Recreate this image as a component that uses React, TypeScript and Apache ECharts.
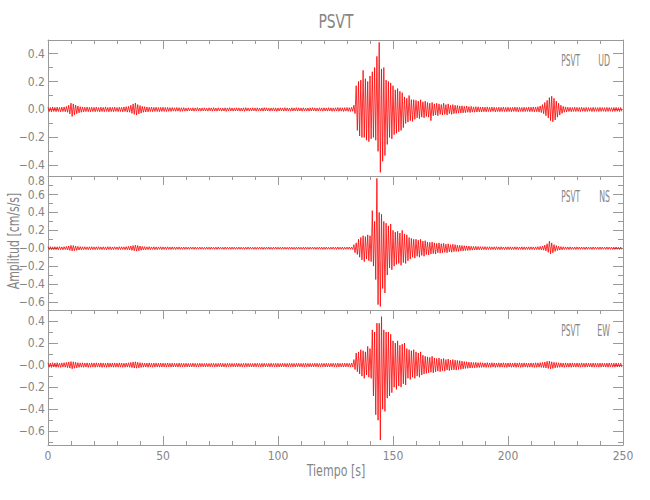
import React, { useEffect, useRef } from "react";
import * as echarts from "echarts";

// ---- data (1 s bins, upper and lower peak amplitude per bin, cm/s/s) ----
const stationName = "PSVT";
const componentNames = ["UD", "NS", "EW"];
const xAxisTitle = "Tiempo [s]";
const yAxisTitle = "Amplitud [cm/s/s]";
const X_MAX = 250;
const X_STEP = 50;
const yRanges = [
  [-0.476, 0.497],
  [-0.69, 0.807],
  [-0.725, 0.5],
];
const yLabelValues = [
  [-0.4, -0.2, 0, 0.2, 0.4],
  [-0.6, -0.4, -0.2, 0, 0.2, 0.4, 0.6, 0.8],
  [-0.6, -0.4, -0.2, 0, 0.2, 0.4],
];
const zeroLabels = ["0.0", "\u22120.0", "\u22120.0"];

const udUp = [
  .016,.014,.018,.015,.017,.014,.016,.018,.022,.03,
  .045,.04,.032,.025,.02,.018,.016,.017,.015,.016,
  .015,.017,.014,.016,.015,.018,.014,.016,.015,.017,
  .014,.016,.015,.018,.02,.022,.03,.04,.046,.035,
  .028,.022,.02,.018,.016,.017,.015,.016,.014,.015,
  .016,.014,.015,.013,.014,.012,.014,.013,.012,.013,
  .011,.012,.01,.012,.011,.013,.01,.011,.012,.01,
  .012,.011,.013,.01,.012,.011,.01,.012,.011,.013,
  .011,.01,.012,.011,.01,.012,.013,.011,.01,.012,
  .011,.012,.01,.011,.013,.012,.01,.011,.012,.011,
  .01,.012,.011,.013,.011,.01,.012,.011,.013,.012,
  .011,.012,.01,.011,.012,.013,.011,.01,.012,.011,
  .012,.011,.013,.012,.011,.012,.014,.013,.012,.013,
  .014,.013,.015,.03,.17,.2,.21,.28,.22,.2,
  .24,.27,.3,.38,.48,.29,.3,.21,.2,.19,
  .17,.14,.15,.13,.12,.09,.08,.1,.07,.07,
  .065,.06,.07,.055,.06,.05,.045,.05,.04,.045,
  .04,.035,.045,.035,.04,.03,.035,.03,.028,.025,
  .026,.022,.025,.02,.022,.018,.02,.019,.017,.018,
  .016,.018,.015,.017,.016,.014,.016,.015,.017,.015,
  .016,.014,.015,.017,.016,.015,.014,.016,.015,.017,
  .016,.018,.017,.02,.025,.035,.05,.065,.085,.095,
  .08,.06,.045,.03,.022,.018,.016,.015,.014,.016,
  .015,.014,.016,.013,.015,.014,.013,.015,.014,.013,
  .015,.014,.013,.015,.014,.013,.014,.015,.013,.014,
];
const udDown = [
  .015,.017,.014,.016,.015,.017,.015,.016,.02,.032,
  .05,.038,.03,.024,.02,.017,.015,.016,.017,.015,
  .016,.014,.017,.015,.016,.014,.017,.015,.016,.014,
  .016,.015,.017,.015,.019,.02,.028,.035,.04,.032,
  .026,.02,.018,.017,.015,.016,.014,.015,.016,.014,
  .014,.015,.013,.014,.012,.013,.012,.014,.013,.012,
  .012,.01,.011,.012,.01,.011,.012,.01,.011,.012,
  .01,.012,.011,.012,.01,.012,.011,.013,.01,.011,
  .012,.011,.01,.012,.011,.013,.01,.012,.011,.01,
  .012,.01,.011,.012,.01,.011,.012,.01,.011,.013,
  .011,.01,.012,.011,.01,.012,.011,.01,.012,.011,
  .012,.01,.011,.012,.011,.01,.012,.011,.01,.012,
  .011,.012,.011,.013,.012,.011,.013,.012,.014,.012,
  .013,.014,.013,.03,.15,.19,.2,.2,.22,.23,
  .21,.2,.22,.3,.45,.37,.33,.25,.2,.21,
  .18,.17,.16,.15,.13,.1,.09,.08,.085,.07,
  .06,.065,.055,.06,.05,.055,.08,.045,.04,.045,
  .035,.04,.035,.04,.03,.035,.03,.028,.026,.025,
  .024,.023,.02,.022,.019,.02,.018,.017,.018,.016,
  .017,.015,.016,.014,.017,.015,.016,.014,.015,.016,
  .015,.016,.014,.015,.017,.014,.016,.015,.014,.016,
  .015,.017,.016,.019,.022,.03,.045,.06,.08,.088,
  .075,.055,.04,.028,.02,.017,.015,.016,.014,.015,
  .014,.016,.013,.015,.014,.013,.015,.014,.013,.015,
  .014,.013,.015,.014,.013,.015,.014,.013,.015,.014,
];
const nsUp = [
  .016,.018,.015,.017,.016,.018,.015,.017,.02,.025,
  .032,.03,.025,.02,.018,.016,.017,.015,.016,.017,
  .015,.016,.017,.014,.016,.015,.017,.016,.014,.016,
  .015,.017,.016,.015,.018,.02,.025,.03,.035,.03,
  .025,.02,.018,.016,.017,.015,.016,.015,.014,.016,
  .015,.014,.016,.013,.015,.014,.013,.015,.012,.014,
  .013,.012,.014,.012,.013,.011,.013,.012,.011,.013,
  .012,.013,.011,.012,.014,.012,.011,.013,.012,.011,
  .013,.012,.011,.013,.012,.011,.012,.013,.012,.011,
  .012,.011,.013,.012,.011,.012,.013,.011,.012,.013,
  .012,.011,.013,.012,.011,.013,.012,.011,.012,.013,
  .011,.012,.013,.011,.012,.013,.012,.011,.013,.012,
  .012,.013,.011,.012,.013,.012,.014,.012,.013,.012,
  .013,.014,.012,.04,.06,.1,.12,.14,.13,.15,
  .14,.42,.3,.78,.4,.38,.3,.28,.25,.27,
  .2,.18,.19,.17,.2,.16,.15,.12,.11,.1,
  .1,.09,.1,.08,.085,.07,.065,.07,.06,.055,
  .06,.05,.055,.045,.05,.04,.045,.04,.035,.032,
  .03,.028,.026,.025,.022,.02,.021,.019,.018,.017,
  .018,.016,.017,.015,.016,.017,.015,.016,.014,.015,
  .016,.015,.014,.016,.015,.014,.016,.015,.014,.015,
  .016,.014,.015,.017,.02,.025,.035,.05,.078,.06,
  .04,.03,.022,.018,.016,.015,.014,.015,.013,.014,
  .015,.013,.014,.012,.014,.013,.012,.014,.013,.012,
  .014,.013,.012,.014,.013,.012,.013,.014,.012,.013,
];
const nsDown = [
  .015,.017,.016,.015,.018,.016,.017,.015,.019,.024,
  .03,.028,.024,.02,.017,.016,.015,.017,.016,.015,
  .016,.015,.014,.016,.015,.017,.014,.016,.015,.014,
  .016,.015,.014,.017,.016,.019,.024,.028,.032,.028,
  .023,.019,.017,.015,.016,.014,.015,.016,.013,.015,
  .014,.015,.013,.014,.013,.015,.012,.014,.013,.012,
  .012,.013,.011,.012,.013,.012,.011,.012,.013,.011,
  .013,.011,.012,.013,.011,.012,.013,.011,.012,.013,
  .011,.013,.012,.011,.012,.013,.011,.012,.011,.013,
  .013,.012,.011,.013,.012,.011,.012,.013,.011,.012,
  .011,.013,.012,.011,.013,.012,.011,.013,.012,.011,
  .012,.013,.011,.012,.011,.012,.013,.012,.011,.013,
  .013,.012,.013,.011,.012,.014,.012,.013,.014,.012,
  .012,.013,.014,.05,.07,.1,.13,.15,.12,.14,
  .15,.2,.35,.63,.65,.45,.5,.3,.22,.24,
  .2,.18,.17,.19,.16,.17,.14,.12,.1,.11,
  .09,.1,.08,.09,.07,.075,.065,.06,.065,.05,
  .055,.05,.045,.05,.04,.045,.038,.035,.036,.03,
  .029,.027,.025,.023,.021,.02,.019,.018,.017,.016,
  .017,.015,.016,.014,.016,.015,.016,.014,.015,.016,
  .015,.016,.014,.015,.016,.014,.015,.016,.014,.015,
  .014,.016,.015,.016,.018,.022,.03,.045,.063,.05,
  .035,.025,.02,.017,.015,.014,.015,.013,.014,.015,
  .013,.014,.012,.014,.013,.012,.014,.013,.012,.014,
  .013,.012,.014,.013,.012,.014,.013,.012,.014,.013,
];
const ewUp = [
  .02,.018,.022,.019,.021,.018,.02,.022,.024,.028,
  .032,.03,.026,.022,.02,.021,.019,.02,.018,.02,
  .019,.021,.018,.02,.019,.017,.02,.018,.019,.02,
  .018,.02,.019,.017,.019,.021,.024,.028,.03,.026,
  .022,.02,.019,.018,.02,.017,.019,.018,.017,.019,
  .018,.017,.019,.016,.018,.017,.016,.018,.017,.016,
  .017,.016,.015,.017,.016,.015,.017,.016,.015,.016,
  .015,.017,.016,.015,.016,.018,.016,.015,.017,.016,
  .016,.015,.017,.016,.015,.016,.017,.015,.016,.015,
  .017,.016,.015,.016,.017,.015,.016,.017,.015,.016,
  .016,.015,.017,.016,.015,.017,.016,.015,.016,.017,
  .015,.016,.017,.015,.016,.015,.017,.016,.015,.016,
  .016,.017,.015,.016,.017,.016,.018,.016,.017,.018,
  .017,.016,.018,.05,.11,.12,.14,.13,.12,.17,
  .15,.32,.3,.38,.38,.44,.32,.3,.3,.28,
  .22,.2,.22,.18,.19,.2,.15,.14,.13,.14,
  .12,.11,.12,.09,.08,.075,.07,.08,.065,.06,
  .065,.055,.06,.05,.055,.045,.05,.045,.042,.04,
  .036,.032,.03,.028,.026,.024,.025,.022,.023,.021,
  .02,.022,.019,.021,.02,.018,.02,.019,.021,.018,
  .019,.02,.018,.02,.019,.021,.018,.02,.019,.018,
  .02,.019,.021,.02,.022,.024,.028,.034,.036,.03,
  .026,.023,.021,.02,.019,.02,.018,.019,.02,.018,
  .019,.018,.02,.017,.019,.018,.017,.019,.018,.017,
  .018,.019,.017,.018,.019,.017,.018,.019,.017,.018,
];
const ewDown = [
  .019,.021,.018,.02,.019,.021,.018,.02,.023,.027,
  .034,.028,.025,.021,.019,.02,.018,.021,.019,.018,
  .02,.018,.019,.021,.018,.02,.019,.018,.02,.019,
  .019,.018,.02,.019,.018,.02,.023,.026,.028,.025,
  .021,.019,.018,.02,.017,.019,.018,.017,.019,.018,
  .017,.018,.016,.018,.017,.016,.018,.017,.016,.017,
  .016,.017,.016,.015,.017,.016,.015,.016,.017,.015,
  .016,.015,.017,.016,.015,.017,.016,.018,.015,.016,
  .015,.017,.016,.015,.017,.016,.015,.016,.017,.016,
  .016,.015,.017,.016,.015,.016,.017,.015,.016,.017,
  .017,.016,.015,.017,.016,.015,.016,.017,.015,.016,
  .016,.017,.015,.016,.017,.016,.015,.017,.016,.015,
  .017,.016,.017,.015,.016,.018,.016,.017,.018,.016,
  .016,.018,.017,.04,.06,.08,.1,.12,.09,.11,
  .12,.28,.45,.5,.68,.4,.42,.3,.28,.25,
  .2,.22,.19,.2,.17,.18,.12,.13,.11,.12,
  .1,.11,.09,.08,.075,.07,.065,.07,.06,.055,
  .06,.05,.055,.045,.05,.045,.042,.045,.04,.038,
  .034,.03,.029,.027,.025,.024,.023,.022,.021,.02,
  .021,.019,.02,.018,.021,.019,.02,.018,.019,.021,
  .018,.02,.019,.021,.018,.02,.019,.018,.02,.019,
  .019,.021,.02,.019,.021,.023,.026,.03,.034,.03,
  .025,.022,.02,.019,.02,.018,.019,.02,.018,.019,
  .018,.019,.017,.019,.018,.017,.019,.018,.017,.019,
  .019,.017,.018,.019,.017,.018,.019,.017,.018,.019,
];
const traces = [
  [udUp, udDown],
  [nsUp, nsDown],
  [ewUp, ewDown],
];

// ---- styling ----
const FONT = '"Liberation Sans Narrow", "DejaVu Sans Condensed", sans-serif';
const TEXT = "#858585";
const AXIS = "#9a9a9a";
const gridTops = [40, 176, 310];
const gridHeights = [136, 134, 135];

function buildTrace(up: number[], down: number[]) {
  const pts: number[][] = [];
  for (let i = 0; i < up.length; i++) {
    pts.push([i, up[i]]);
    pts.push([i + 0.5, -down[i]]);
  }
  return pts;
}

function fmt(v: number, panel: number) {
  if (Math.abs(v) < 1e-9) return zeroLabels[panel];
  const s = Math.abs(v).toFixed(1);
  const txt = v < 0 ? "\u2212" + s : s;
  // the top label of a lower panel sits right at the panel seam: nudge it down a little
  const top = yLabelValues[panel][yLabelValues[panel].length - 1];
  if (panel > 0 && Math.abs(v - top) < 1e-9 && yRanges[panel][1] - top < 0.05) return "{seam|" + txt + "}";
  return txt;
}

export default function App() {
  const ref = useRef<HTMLDivElement>(null);
  useEffect(() => {
    if (!ref.current) return;
    const chart = echarts.init(ref.current, null, { renderer: "svg" });
    const grids: any[] = [];
    const xAxes: any[] = [];
    const yAxes: any[] = [];
    const series: any[] = [];
    const graphics: any[] = [];
    const baseX = {
      type: "value",
      min: 0,
      max: X_MAX,
      interval: X_STEP,
      splitLine: { show: false },
      axisLine: { show: true, onZero: false, lineStyle: { color: AXIS, width: 1 } },
      axisTick: { show: true, inside: true, length: 9, lineStyle: { color: AXIS } },
      minorTick: { show: true, splitNumber: 5, length: 4, lineStyle: { color: AXIS } },
    };
    for (let g = 0; g < 3; g++) {
      grids.push({ left: 48, right: 27, top: gridTops[g], height: gridHeights[g], containLabel: false });
      xAxes.push({ ...baseX, gridIndex: g, position: "top", axisLabel: { show: false } });
      const baseY = {
        type: "value",
        gridIndex: g,
        min: yRanges[g][0],
        max: yRanges[g][1],
        minInterval: 0.2,
        maxInterval: 0.2,
        splitLine: { show: false },
        axisLine: { show: true, onZero: false, lineStyle: { color: AXIS, width: 1 } },
        axisTick: { show: true, inside: true, length: 10, lineStyle: { color: AXIS } },
        minorTick: { show: true, splitNumber: 2, length: 5, lineStyle: { color: AXIS } },
      };
      yAxes.push({
        ...baseY,
        position: "left",
        axisLabel: {
          show: true,
          customValues: yLabelValues[g],
          formatter: (v: number) => fmt(v, g),
          color: TEXT,
          fontFamily: FONT,
          fontSize: 12,
          margin: 3,
          rich: {
            seam: { color: TEXT, fontFamily: FONT, fontSize: 12, padding: [9, 0, 0, 0] },
          },
        },
      });
      yAxes.push({ ...baseY, position: "right", axisLabel: { show: false } });
      series.push({
        type: "line",
        xAxisIndex: g,
        yAxisIndex: g * 2,
        data: buildTrace(traces[g][0], traces[g][1]),
        showSymbol: false,
        symbol: "none",
        silent: true,
        clip: true,
        lineStyle: { color: "#ff0000", width: 0.8 },
      });
      const ly = gridTops[g] + 21;
      graphics.push({
        type: "text", x: 580, y: ly, scaleX: 0.55,
        style: { text: stationName, fill: TEXT, fontSize: 15, fontFamily: FONT, align: "right", textAlign: "right", verticalAlign: "middle", textVerticalAlign: "middle" },
      });
      graphics.push({
        type: "text", x: 610, y: ly, scaleX: 0.58,
        style: { text: componentNames[g], fill: TEXT, fontSize: 15, fontFamily: FONT, align: "right", textAlign: "right", verticalAlign: "middle", textVerticalAlign: "middle" },
      });
    }
    xAxes.push({
      ...baseX,
      gridIndex: 2,
      position: "bottom",
      axisLabel: { show: true, color: TEXT, fontFamily: FONT, fontSize: 12, margin: 5 },
    });
    graphics.push({
      type: "text", x: 336, y: 21, scaleX: 0.77,
      style: { text: stationName, fill: TEXT, fontSize: 20, fontFamily: FONT, align: "center", textAlign: "center", verticalAlign: "middle", textVerticalAlign: "middle" },
    });
    graphics.push({
      type: "text", x: 336, y: 471, scaleX: 0.82,
      style: { text: xAxisTitle, fill: TEXT, fontSize: 15, fontFamily: FONT, align: "center", textAlign: "center", verticalAlign: "middle", textVerticalAlign: "middle" },
    });
    graphics.push({
      type: "text", x: 14, y: 241, rotation: Math.PI / 2, scaleX: 0.81,
      style: { text: yAxisTitle, fill: TEXT, fontSize: 15, fontFamily: FONT, align: "center", textAlign: "center", verticalAlign: "middle", textVerticalAlign: "middle" },
    });
    chart.setOption({
      animation: false,
      backgroundColor: "#ffffff",
      grid: grids,
      xAxis: xAxes,
      yAxis: yAxes,
      series,
      graphic: graphics,
    });
    return () => chart.dispose();
  }, []);
  return (
    <div
      ref={ref}
      style={{ position: "absolute", left: 0, top: 0, width: 650, height: 500 }}
    />
  );
}
